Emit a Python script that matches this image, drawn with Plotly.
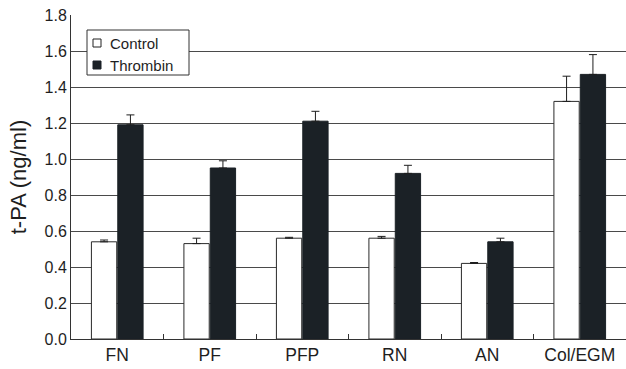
import plotly.graph_objects as go

# t-PA release by substrate, control vs thrombin-stimulated
categories = ["FN", "PF", "PFP", "RN", "AN", "Col/EGM"]
control = [0.54, 0.53, 0.56, 0.56, 0.42, 1.32]
control_err = [0.01, 0.03, 0.005, 0.01, 0.005, 0.14]
thrombin = [1.19, 0.95, 1.21, 0.92, 0.54, 1.47]
thrombin_err = [0.055, 0.04, 0.055, 0.045, 0.02, 0.11]
y_ticks = [0.0, 0.2, 0.4, 0.6, 0.8, 1.0, 1.2, 1.4, 1.6, 1.8]
series_names = ["Control", "Thrombin"]

FONT = "Liberation Sans, Arial, sans-serif"
INK = "#1e1e1e"
DARK = "#1b2126"

W, H = 626, 369
ML, MR, MT, MB = 71, 0, 15, 30


def px_x(x):
    return (x - ML) / (W - ML - MR)


def px_y(y):
    return (H - MB - y) / (H - MT - MB)


fig = go.Figure()
fig.add_trace(go.Bar(
    name=series_names[0], x=categories, y=control,
    marker=dict(color="white", line=dict(color="#2a2a2a", width=1)),
    error_y=dict(type="data", array=control_err, arrayminus=[0] * len(control),
                 symmetric=False, color=INK, thickness=1, width=4),
))
fig.add_trace(go.Bar(
    name=series_names[1], x=categories, y=thrombin,
    marker=dict(color=DARK, line=dict(color=DARK, width=1)),
    error_y=dict(type="data", array=thrombin_err, arrayminus=[0] * len(thrombin),
                 symmetric=False, color=INK, thickness=1, width=4),
))

# compact boxed key in the upper-left corner
shapes = [
    dict(type="rect", xref="paper", yref="paper",
         x0=px_x(87), x1=px_x(189), y0=px_y(75), y1=px_y(30),
         fillcolor="white", line=dict(color="#333", width=1), layer="above"),
    dict(type="rect", xref="paper", yref="paper",
         x0=px_x(93), x1=px_x(101), y0=px_y(47), y1=px_y(39),
         fillcolor="white", line=dict(color="#222", width=1), layer="above"),
    dict(type="rect", xref="paper", yref="paper",
         x0=px_x(93), x1=px_x(101), y0=px_y(69), y1=px_y(61),
         fillcolor=DARK, line=dict(color=DARK, width=1), layer="above"),
]
annotations = [
    dict(text=series_names[0], xref="paper", yref="paper",
         x=px_x(108), y=px_y(43), xanchor="left", yanchor="middle",
         showarrow=False, font=dict(size=15, family=FONT, color=INK)),
    dict(text=series_names[1], xref="paper", yref="paper",
         x=px_x(108), y=px_y(65), xanchor="left", yanchor="middle",
         showarrow=False, font=dict(size=15, family=FONT, color=INK)),
]

fig.update_layout(
    width=W, height=H,
    margin=dict(l=ML, r=MR, t=MT, b=MB),
    paper_bgcolor="white", plot_bgcolor="white",
    font=dict(family=FONT, size=16, color=INK),
    barmode="group", bargap=0.43, bargroupgap=0.04,
    showlegend=False,
    shapes=shapes, annotations=annotations,
    xaxis=dict(type="category", range=[-0.5, 5.5],
               showline=True, linecolor="#333", linewidth=1,
               ticks="inside", tickson="boundaries", ticklen=5,
               tickcolor="#333", showgrid=False,
               tickfont=dict(size=17.5, family=FONT, color=INK)),
    yaxis=dict(range=[0, 1.8], tickvals=y_ticks,
               ticktext=[f"{v:.1f}" for v in y_ticks],
               showline=True, linecolor="#333", linewidth=1,
               showgrid=True, gridcolor="#4a4a4a", gridwidth=1,
               zeroline=False, ticks="",
               tickfont=dict(size=16, family=FONT, color=INK),
               title=dict(text="t-PA (ng/ml)", standoff=11,
                          font=dict(size=22, family=FONT, color=INK))),
)

fig.write_html("out.html")
